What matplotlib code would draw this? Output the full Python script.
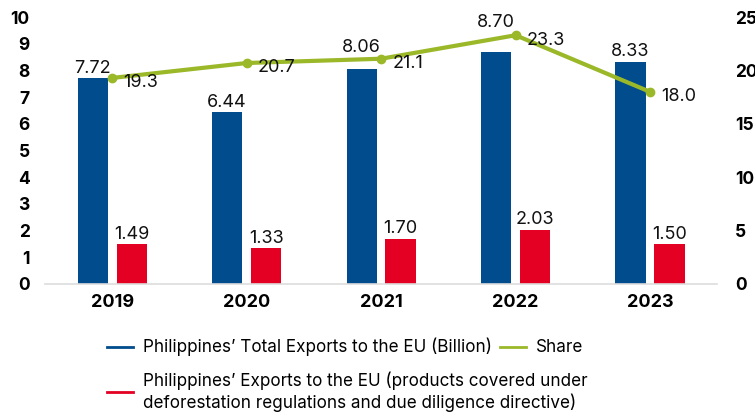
import numpy as np
import matplotlib
matplotlib.use('Agg')
import matplotlib.pyplot as plt
from matplotlib.lines import Line2D

years = ["2019", "2020", "2021", "2022", "2023"]
total_exports = [7.72, 6.44, 8.06, 8.70, 8.33]
covered_exports = [1.49, 1.33, 1.70, 2.03, 1.50]
share = [19.3, 20.7, 21.1, 23.3, 18.0]

BLUE = "#004c8c"
RED = "#e30022"
GREEN = "#9bb829"

plt.rcParams['font.family'] = ['Inter', 'DejaVu Sans']

fig = plt.figure(figsize=(7.55, 4.17), dpi=100)
ax = fig.add_axes([0.0596, 0.319, 0.8904, 0.640])
ax2 = ax.twinx()

x = np.arange(len(years))
width = 0.225
offset = 0.145

blue_bars = ax.bar(x - offset, total_exports, width, color=BLUE, zorder=2)
red_bars = ax.bar(x + offset, covered_exports, width, color=RED, zorder=2)

# blue labels in 2021/2022 are lifted so they clear the share line
blue_lift = [0, 0, 8, 14, 0]
for bar, v, lift in zip(blue_bars, total_exports, blue_lift):
    ax.annotate(f"{v:.2f}", (bar.get_x() + bar.get_width() / 2, v),
                xytext=(0, 1 + lift), textcoords="offset points",
                ha="center", va="bottom", fontsize=13, color="#111111")
for bar, v in zip(red_bars, covered_exports):
    ax.annotate(f"{v:.2f}", (bar.get_x() + bar.get_width() / 2, v),
                xytext=(0, 1), textcoords="offset points",
                ha="center", va="bottom", fontsize=13, color="#111111")

ax2.plot(x, share, color=GREEN, lw=3, marker="o", ms=6, zorder=3)
for xi, v in zip(x, share):
    ax2.annotate(f"{v:.1f}", (xi, v), xytext=(8, -3.5), textcoords="offset points",
                 ha="left", va="center", fontsize=13, color="#111111")

ax.set_xlim(-0.5, len(years) - 0.5)
ax.set_ylim(0, 10)
ax2.set_ylim(0, 25)
ax.set_yticks(range(0, 11))
ax2.set_yticks(range(0, 26, 5))
ax.set_xticks(x)
ax.set_xticklabels(years)

for a in (ax, ax2):
    for s in a.spines.values():
        s.set_visible(False)
    a.tick_params(length=0)
ax.spines["bottom"].set_visible(True)
ax.spines["bottom"].set_color("#dddddd")
ax.spines["bottom"].set_linewidth(1.2)

ax.tick_params(axis="y", pad=11, labelsize=12.5)
ax.tick_params(axis="x", pad=7, labelsize=13)
ax2.tick_params(axis="y", pad=13, labelsize=12.5)
for lab in ax.get_xticklabels() + ax.get_yticklabels() + ax2.get_yticklabels():
    lab.set_fontweight("bold")

# legend: first row has two entries, second row the covered-products series
h_blue = Line2D([], [], color=BLUE, lw=2)
h_green = Line2D([], [], color=GREEN, lw=2)
h_red = Line2D([], [], color=RED, lw=2)
leg_kw = dict(loc="upper left", frameon=False, fontsize=12.3, handlelength=1.5,
              handletextpad=0.6, borderpad=0, borderaxespad=0)
fig.legend([h_blue, h_green],
           ["Philippines\u2019 Total Exports to the EU (Billion)", "Share"],
           bbox_to_anchor=(107 / 755, 1 - 338 / 417), ncol=2,
           columnspacing=0.5, **leg_kw)
fig.legend([h_red],
           ["Philippines\u2019 Exports to the EU (products covered under\n"
            "deforestation regulations and due diligence directive)"],
           bbox_to_anchor=(107 / 755, 1 - 372 / 417), **leg_kw)

fig.savefig("out.png", dpi=100)
